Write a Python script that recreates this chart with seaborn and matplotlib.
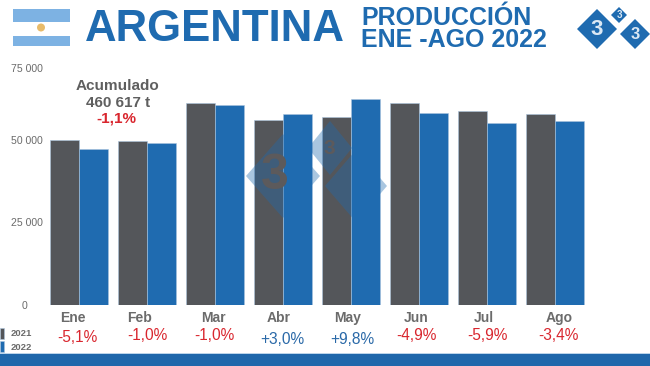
import numpy as np
import pandas as pd
import matplotlib
matplotlib.use("Agg")
import matplotlib.pyplot as plt
from matplotlib.patches import Polygon, Rectangle, Circle
from matplotlib.transforms import ScaledTranslation
import seaborn as sns

months = ["Ene", "Feb", "Mar", "Abr", "May", "Jun", "Jul", "Ago"]
prod_2021 = [49850, 49700, 61200, 56060, 56970, 61210, 58790, 57880]
prod_2022 = [47270, 49090, 60600, 57730, 62420, 58180, 55300, 55900]
changes = ["-5,1%", "-1,0%", "-1,0%", "+3,0%", "+9,8%", "-4,9%", "-5,9%", "-3,4%"]
y_ticks = [0, 25000, 50000, 75000]
y_labels = ["0", "25 000", "50 000", "75 000"]

GRAY = "#54565a"
BLUE = "#1f6bb0"
RED = "#d9262e"
TXT = "#6b6b6b"

sns.set_theme(style="white")
plt.rcParams["font.family"] = ["Liberation Sans", "DejaVu Sans"]

df = pd.DataFrame({
    "mes": months * 2,
    "t": prod_2021 + prod_2022,
    "anio": ["2021"] * 8 + ["2022"] * 8,
})

W, H = 650, 366
fig = plt.figure(figsize=(W / 100, H / 100), dpi=100, facecolor="white")
ax = fig.add_axes([45 / W, (H - 305) / H, 544 / W, 247.5 / H])
sns.barplot(data=df, x="mes", y="t", hue="anio", palette=[GRAY, BLUE], saturation=1,
            width=0.88, gap=0.03, edgecolor="#a9c4de", linewidth=0.4, ax=ax)
ax.set_xlim(-0.5, 7.5)
ax.set_ylim(0, 75000)
ax.set_xlabel("")
ax.set_ylabel("")
sns.despine(ax=ax, left=True, bottom=True, top=True, right=True)
ax.patch.set_alpha(0)
ax.tick_params(length=0)
ax.set_yticks(y_ticks, y_labels, fontsize=7.6, color=TXT)
ax.set_xticks(range(8), months, fontsize=10, fontweight="bold", color=TXT)
ax.tick_params(axis="y", pad=1.5)
ax.tick_params(axis="x", pad=4)


def nudge(label, dx, dy):
    label.set_transform(label.get_transform() +
                        ScaledTranslation(dx / 100, dy / 100, fig.dpi_scale_trans))


for lab, (dx, dy) in zip(ax.get_yticklabels(), [(-16, 0), (0, 0), (0, 0), (0, -10.5)]):
    nudge(lab, dx, dy)
for lab, dx in zip(ax.get_xticklabels(), [-6, -7, -2, -4, -3, -3, -3, 4]):
    nudge(lab, dx, 0)

handles, labels = ax.get_legend_handles_labels()
leg = ax.legend(handles, labels, loc="lower left", bbox_to_anchor=(0, 14 / H),
                bbox_transform=fig.transFigure, frameon=False,
                prop={"size": 6.8, "weight": "bold"},
                handlelength=0.4, handleheight=1.4, handletextpad=0.7,
                labelspacing=0.25, borderpad=0, borderaxespad=0)
for t in leg.get_texts():
    t.set_color(TXT)

ov = fig.add_axes([0, 0, 1, 1], zorder=5)
ov.set_xlim(0, W)
ov.set_ylim(H, 0)
ov.axis("off")
ov.patch.set_alpha(0)


def diamond(cx, cy, rx, ry, **kw):
    ov.add_patch(Polygon([(cx - rx, cy), (cx, cy - ry), (cx + rx, cy), (cx, cy + ry)],
                         closed=True, lw=0, **kw))


# footer
ov.add_patch(Rectangle((0, 354), W, 12, color="#1f67ab", lw=0))
ov.add_patch(Rectangle((0, 353), W, 1, color="#bcd4ea", lw=0))

# flag
ov.add_patch(Rectangle((13, 9), 57, 13, color="#7db2e3", lw=0))
ov.add_patch(Rectangle((13, 36), 57, 10, color="#7db2e3", lw=0))
ov.add_patch(Circle((41, 27.5), 4, color="#e8bb6a", lw=0))

# titles
ov.text(85, 41, "ARGENTINA", fontsize=31.5, fontweight="bold", color=BLUE, va="baseline", ha="left")
ov.text(361, 25, "PRODUCCIÓN", fontsize=18, fontweight="bold", color=BLUE, va="baseline", ha="left")
ov.text(361, 47, "ENE -AGO 2022", fontsize=18, fontweight="bold", color=BLUE, va="baseline", ha="left")

# logo
for cx, cy, r, fs in [(597, 29, 20, 16), (619, 15, 8, 7), (635, 34, 15, 12)]:
    diamond(cx, cy, r, r, color=BLUE)
    ov.text(cx, cy + 0.5, "3", fontsize=fs, fontweight="bold", color="#dbe8f4", ha="center", va="center")

# watermark
WM = "#1f6bb0"
for cx, cy, r in [(283, 176, 37), (330, 148, 22), (356, 186, 31)]:
    diamond(cx, cy, r, r + 5, color=WM, alpha=0.38)
ov.text(275, 176, "3", fontsize=36, fontweight="bold", color="#5c5a5c", ha="center", va="center")
ov.text(329, 148, "3", fontsize=15, fontweight="bold", color="#5c5a5c", ha="center", va="center")

# accumulated
ov.text(118, 86, "Acumulado", fontsize=11, fontweight="bold", color="#5f5f5f", ha="center", va="center")
ov.text(118, 103, "460 617 t", fontsize=11, fontweight="bold", color="#5f5f5f", ha="center", va="center")
ov.text(116, 118.5, "-1,1%", fontsize=11, fontweight="bold", color=RED, ha="center", va="center")

# monthly change
pct_x = [77, 147, 214, 282, 352, 416, 487, 558]
pct_y = [337, 336, 336, 339, 339, 336, 336, 336]
for x, y, s in zip(pct_x, pct_y, changes):
    ov.text(x, y, s, fontsize=11.2, color="#2a69a8" if s.startswith("+") else RED,
            ha="center", va="center")

fig.savefig("out.png", dpi=100, facecolor="white")
